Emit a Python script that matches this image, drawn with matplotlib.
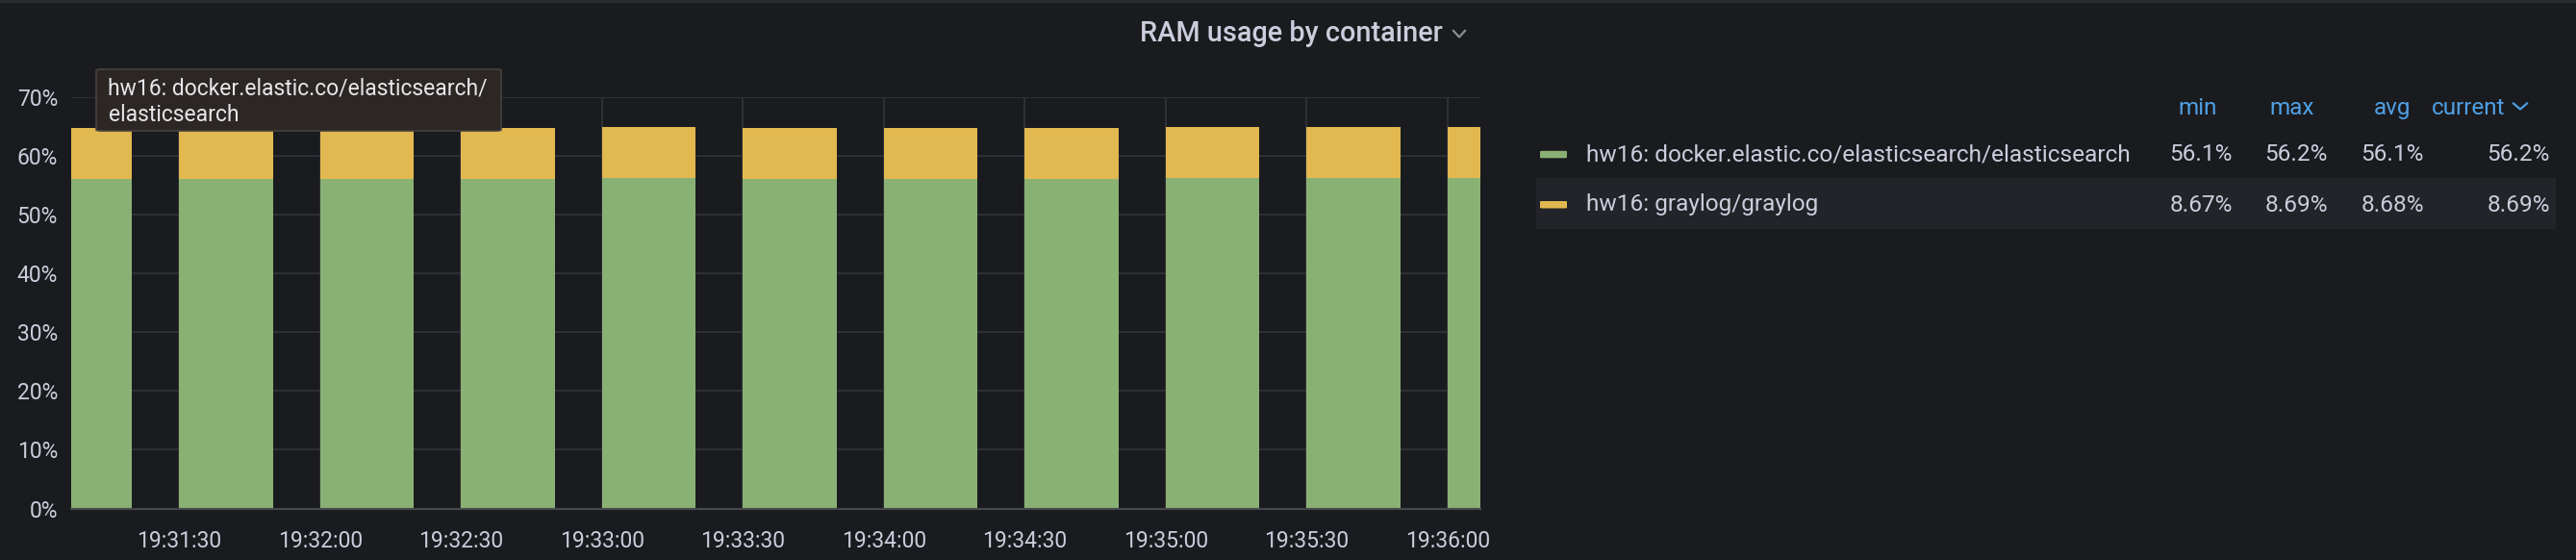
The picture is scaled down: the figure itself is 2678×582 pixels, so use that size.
"""RAM usage by container - Grafana style stacked bar panel."""

import matplotlib
matplotlib.use("Agg")
import matplotlib.dates as mdates
import matplotlib.pyplot as plt
import pandas as pd
from matplotlib.lines import Line2D
from matplotlib.patches import FancyBboxPatch, Rectangle

times = ["19:31:00", "19:31:30", "19:32:00", "19:32:30", "19:33:00", "19:33:30",
         "19:34:00", "19:34:30", "19:35:00", "19:35:30", "19:36:00"]
elastic = [56.1, 56.1, 56.1, 56.1, 56.2, 56.1, 56.1, 56.1, 56.2, 56.2, 56.2]
graylog = [8.67, 8.67, 8.68, 8.68, 8.68, 8.68, 8.69, 8.68, 8.68, 8.69, 8.69]
series_names = ["hw16: docker.elastic.co/elasticsearch/elasticsearch", "hw16: graylog/graylog"]
stat_names = ["min", "max", "avg", "current"]
yticks = [0, 10, 20, 30, 40, 50, 60, 70]
title = "RAM usage by container"
tooltip = "hw16: docker.elastic.co/elasticsearch/\nelasticsearch"

W, H = 2678, 582
BG = "#1a1b1f"
TEXT = "#ccccdc"
GRID = "#36373c"
GREEN = "#8ab174"
YELLOW = "#e2b850"
BLUE = "#4f9fe3"

plt.rcParams["font.family"] = ["Roboto", "DejaVu Sans"]


def px(x, y):
    return x / W, 1 - y / H


ts = pd.to_datetime(["2022-01-01 " + t for t in times])
bar_w = pd.Timedelta(seconds=20) / pd.Timedelta(days=1)

fig = plt.figure(figsize=(W / 100, H / 100), dpi=100, facecolor=BG)
ax = fig.add_axes([74 / W, 1 - 528.5 / H, (1539 - 74) / W, (528.5 - 100.7) / H])
ax.set_facecolor(BG)

ax.bar(ts, elastic, width=bar_w, align="edge", color=GREEN, zorder=2, linewidth=0)
ax.bar(ts, graylog, width=bar_w, align="edge", bottom=elastic, color=YELLOW, zorder=2, linewidth=0)

ax.set_xlim(pd.Timestamp("2022-01-01 19:31:07"), pd.Timestamp("2022-01-01 19:36:07"))
ax.set_ylim(0, 70)
ax.set_yticks(yticks)
ax.set_yticklabels([f"{v}%" for v in yticks])
ax.xaxis.set_major_locator(mdates.SecondLocator(bysecond=[0, 30]))
ax.xaxis.set_major_formatter(mdates.DateFormatter("%H:%M:%S"))
ax.tick_params(length=0, colors=TEXT, labelsize=16.5)
ax.tick_params(axis="x", pad=16)
ax.tick_params(axis="y", pad=10)
ax.grid(True, color=GRID, linewidth=1.1, zorder=0)
for side in ["top", "right", "left"]:
    ax.spines[side].set_visible(False)
ax.spines["bottom"].set_color("#46474c")
ax.spines["bottom"].set_linewidth(1.6)
ax.spines["bottom"].set_zorder(3)

# panel top border
fig.add_artist(Line2D([0, 1], [1 - 1 / H, 1 - 1 / H], transform=fig.transFigure, color="#2a2b30", linewidth=2.5))

# title and chevron
fig.text(*px(1185, 43.3), title, color=TEXT, fontsize=20.8, fontweight="medium", va="baseline", ha="left")
cx = [1511 / W, 1517 / W, 1523 / W]
cy = [1 - 32 / H, 1 - 38.5 / H, 1 - 32 / H]
fig.add_artist(Line2D(cx, cy, transform=fig.transFigure, color="#8e8e96", linewidth=1.6))

# tooltip
fig.add_artist(FancyBboxPatch(px(100, 136), 421 / W, 64 / H, boxstyle="round,pad=0,rounding_size=0.002",
                              transform=fig.transFigure, facecolor="#2c2724", edgecolor="#47423f",
                              linewidth=1.2, zorder=10))
lines = tooltip.split("\n")
fig.text(*px(112.5, 98.3), lines[0], color="#e6e6ea", fontsize=16.5, va="baseline", zorder=11)
fig.text(*px(112.5, 126), lines[1], color="#e6e6ea", fontsize=16.5, va="baseline", zorder=11)

# legend table
fig.add_artist(Rectangle(px(1597, 236.7), (2656 - 1597) / W, (236.7 - 185) / H,
                         transform=fig.transFigure, color="#222429", zorder=0))
header_right = [2305, 2406, 2506, 2604]
for name, xr in zip(stat_names, header_right):
    fig.text(*px(xr, 119.3), name, color=BLUE, fontsize=17.5, ha="right", va="baseline")
hx = [2613 / W, 2620 / W, 2627 / W]
hy = [1 - 107.5 / H, 1 - 113.5 / H, 1 - 107.5 / H]
fig.add_artist(Line2D(hx, hy, transform=fig.transFigure, color=BLUE, linewidth=1.6))

value_right = [2321, 2420, 2520, 2651]
for name, vals, color, base in zip(series_names, [elastic, graylog], [GREEN, YELLOW], [167.3, 219.5]):
    stats = [min(vals), max(vals), sum(vals) / len(vals), vals[-1]]
    fig.add_artist(FancyBboxPatch(px(1601, base - 3), 28 / W, 7.5 / H,
                                  boxstyle="round,pad=0,rounding_size=0.001",
                                  transform=fig.transFigure, facecolor=color, linewidth=0))
    fig.text(*px(1649, base), name, color=TEXT, fontsize=17.6, va="baseline")
    for v, xr in zip(stats, value_right):
        fig.text(*px(xr, base), f"{v:.3g}%", color=TEXT, fontsize=17.6, ha="right", va="baseline")

fig.savefig("out.png", dpi=100, facecolor=BG)
